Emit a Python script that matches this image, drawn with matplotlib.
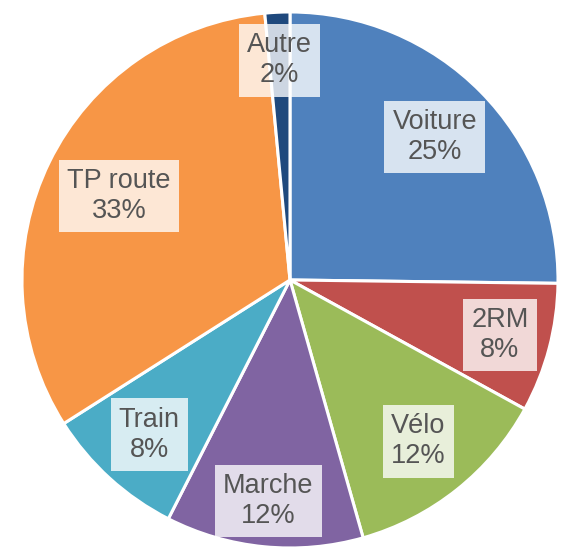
import numpy as np
import matplotlib.pyplot as plt

categories = ["Voiture", "2RM", "Vélo", "Marche", "Train", "TP route", "Autre"]
values = [25.2, 7.8, 12.6, 11.9, 8.5, 32.5, 1.5]
pct_labels = ["25%", "8%", "12%", "12%", "8%", "33%", "2%"]
colors = ["#4F81BD", "#C0504D", "#9BBB59", "#8064A2", "#4BACC6", "#F79646", "#1F497D"]
label_dist = [0.76, 0.81, 0.77, 0.83, 0.78, 0.71, 0.82]

plt.rcParams['font.family'] = ['Liberation Sans', 'DejaVu Sans']

fig = plt.figure(figsize=(5.65, 5.47), dpi=100)
ax = fig.add_axes([0.0389, -0.0018, 0.9487, 0.9799])

wedges, _ = ax.pie(values, colors=colors, startangle=90, counterclock=False,
                   radius=1, wedgeprops=dict(edgecolor='white', linewidth=2.2))

for w, cat, pct, d in zip(wedges, categories, pct_labels, label_dist):
    mid = np.deg2rad((w.theta1 + w.theta2) / 2)
    ax.text(d * np.cos(mid), d * np.sin(mid), f"{cat}\n{pct}", ha='center', va='center',
            fontsize=19.5, color='#555555', linespacing=1.2,
            bbox=dict(boxstyle='square,pad=0.3', facecolor='white', edgecolor='none', alpha=0.78))

ax.set_xlim(-1, 1)
ax.set_ylim(-1, 1)

fig.savefig("out.png", dpi=100)
